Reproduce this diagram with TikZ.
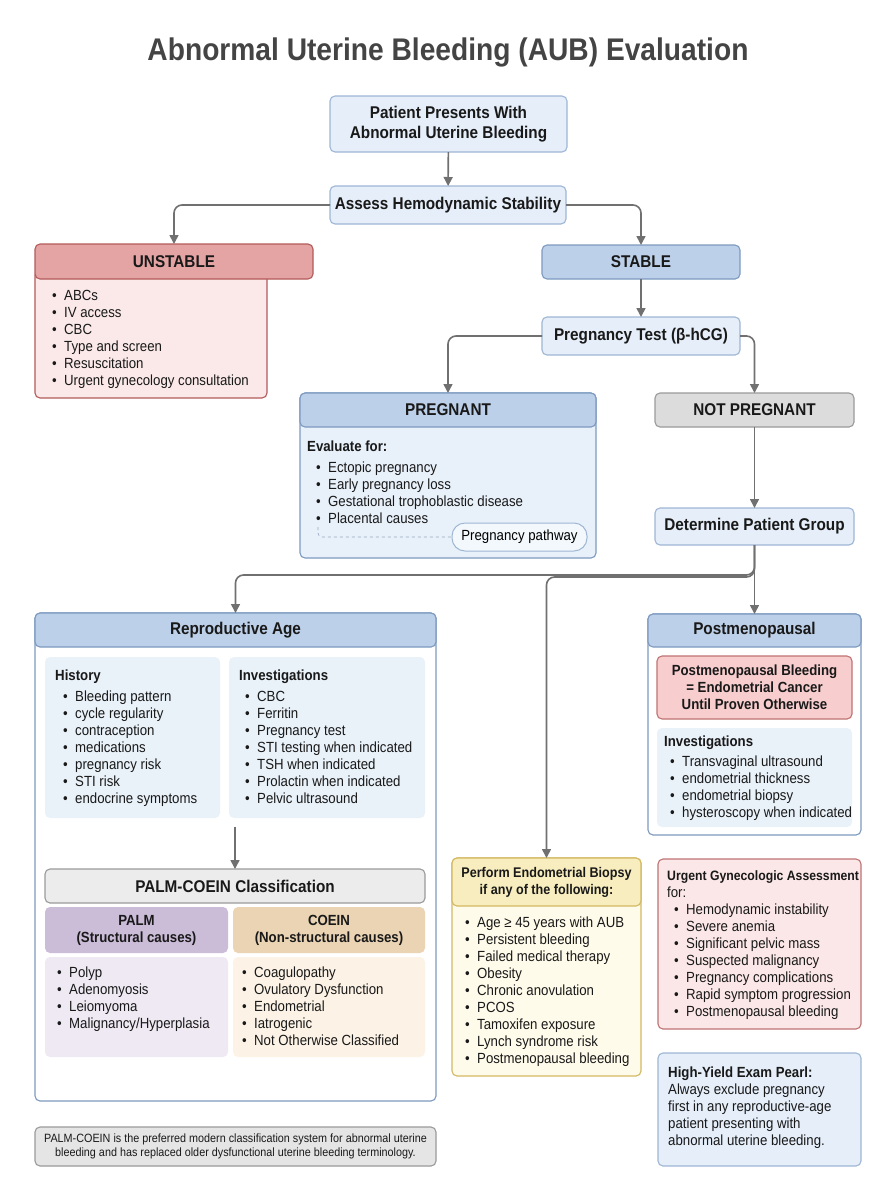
\documentclass[tikz,border=0pt]{standalone}
\usepackage{fontspec}
\setmainfont{Liberation Sans}[FakeStretch=0.9]
\usetikzlibrary{arrows.meta}
\definecolor{procfill}{HTML}{E5EEF9}
\definecolor{procline}{HTML}{9FB6D4}
\definecolor{headfill}{HTML}{BDD0E9}
\definecolor{headline}{HTML}{7D9AC0}
\definecolor{bodyblue}{HTML}{E8F0FA}
\definecolor{softblue}{HTML}{E9F1F9}
\definecolor{redfill}{HTML}{E4A4A4}
\definecolor{redline}{HTML}{B45A5A}
\definecolor{redbody}{HTML}{FBE9E9}
\definecolor{warnfill}{HTML}{F7CDCD}
\definecolor{urgfill}{HTML}{FBE7E7}
\definecolor{grayfill}{HTML}{DCDCDC}
\definecolor{grayline}{HTML}{9A9A9A}
\definecolor{palegray}{HTML}{ECECEC}
\definecolor{purphead}{HTML}{CBBCD8}
\definecolor{purpbody}{HTML}{EFE9F4}
\definecolor{tanhead}{HTML}{EAD4B4}
\definecolor{tanbody}{HTML}{FCF3E6}
\definecolor{yelhead}{HTML}{F8EDBE}
\definecolor{yelline}{HTML}{D3B862}
\definecolor{yelbody}{HTML}{FFFBEA}
\definecolor{arrowgray}{HTML}{707070}
\definecolor{titlegray}{HTML}{444444}
\newcommand{\bl}{\makebox[12pt][l]{\textbullet}}

\begin{document}
\begin{tikzpicture}[x=1pt, y=-1pt,
    box/.style={draw, rounded corners=5pt, line width=1.1pt, inner sep=0pt, outer sep=0pt,
        align=center, text=black!90, font=\fontsize{17}{20}\selectfont\bfseries},
    procbox/.style={box, fill=procfill, draw=procline},
    bluehead/.style={box, fill=headfill, draw=headline},
    bluebody/.style={box, fill=bodyblue, draw=headline},
    whitebody/.style={box, fill=white, draw=headline},
    redhead/.style={box, fill=redfill, draw=redline},
    redbox/.style={box, fill=redbody, draw=redline},
    graybox/.style={box, fill=grayfill, draw=grayline},
    softbox/.style={box, fill=softblue, draw=none},
    smallhead/.style={box, draw=none, font=\fontsize{14.7}{17}\selectfont\bfseries},
    lst/.style={anchor=north west, inner sep=0pt, align=left, text=black!90,
        font=\fontsize{14.7}{17}\selectfont},
    arr/.style={draw=arrowgray, line width=1.6pt, rounded corners=8pt,
        -{Triangle[length=9pt,width=9pt]}}]

\fill[white] (0,0) rectangle (896,1200);

\node[font=\fontsize{31.3}{36}\selectfont\bfseries, text=titlegray] (title) at (448,52)
    {Abnormal Uterine Bleeding (AUB) Evaluation};

\node[procbox, minimum width=237pt, minimum height=56pt] (present) at (448.5,124)
    {Patient Presents With\\Abnormal Uterine Bleeding};
\node[procbox, minimum width=236pt, minimum height=38pt] (assess) at (448,205)
    {Assess Hemodynamic Stability};

\node[redbox, minimum width=232pt, minimum height=128pt] (unstbody) at (151,334) {};
\node[redhead, minimum width=278pt, minimum height=35pt] (unstable) at (174,261.5) {UNSTABLE};
\node[lst] (unstlist) at (52,290) {\bl ABCs\\\bl IV access\\\bl CBC\\\bl Type and screen\\
    \bl Resuscitation\\\bl Urgent gynecology consultation};

\node[bluehead, minimum width=198pt, minimum height=34pt] (stable) at (641,262) {STABLE};
\node[procbox, minimum width=198pt, minimum height=38pt] (pregtest) at (641,336)
    {Pregnancy Test (β-hCG)};

\node[bluebody, minimum width=296pt, minimum height=165pt] (pregbody) at (448,475.5) {};
\node[bluehead, minimum width=296pt, minimum height=34pt] (preg) at (448,410) {PREGNANT};
\node[lst] (evallist) at (307,441) {\textbf{Evaluate for:}\\[4pt]
    \hspace*{9pt}\bl Ectopic pregnancy\\\hspace*{9pt}\bl Early pregnancy loss\\
    \hspace*{9pt}\bl Gestational trophoblastic disease\\\hspace*{9pt}\bl Placental causes};
\node[draw=procline, fill=bodyblue!50, line width=1pt, rounded corners=13pt, minimum width=135pt,
    minimum height=28pt, inner sep=0pt, font=\fontsize{14.7}{17}\selectfont] (pill) at (519.5,537)
    {Pregnancy pathway};
\coordinate (dotstart) at (318,527);
\draw[procline!80!gray, dashed, line width=0.7pt, rounded corners=4pt] (dotstart) |- (pill.west);

\node[graybox, minimum width=199pt, minimum height=34pt] (notpreg) at (754.5,410) {NOT PREGNANT};
\node[procbox, minimum width=199pt, minimum height=37pt] (group) at (754.5,526.5)
    {Determine Patient Group};

\node[whitebody, minimum width=401pt, minimum height=488pt] (reprobody) at (235.5,857) {};
\node[bluehead, minimum width=401pt, minimum height=34pt] (repro) at (235.5,630) {Reproductive Age};
\node[softbox, minimum width=175pt, minimum height=161pt] (hist) at (132.5,737.5) {};
\node[softbox, minimum width=196pt, minimum height=161pt] (invest) at (327,737.5) {};
\node[lst] (histlist) at (55,670) {\textbf{History}\\[4pt]
    \hspace*{8pt}\bl Bleeding pattern\\\hspace*{8pt}\bl cycle regularity\\
    \hspace*{8pt}\bl contraception\\\hspace*{8pt}\bl medications\\
    \hspace*{8pt}\bl pregnancy risk\\\hspace*{8pt}\bl STI risk\\
    \hspace*{8pt}\bl endocrine symptoms};
\node[lst] (investlist) at (239,670) {\textbf{Investigations}\\[4pt]
    \hspace*{6pt}\bl CBC\\\hspace*{6pt}\bl Ferritin\\\hspace*{6pt}\bl Pregnancy test\\
    \hspace*{6pt}\bl STI testing when indicated\\\hspace*{6pt}\bl TSH when indicated\\
    \hspace*{6pt}\bl Prolactin when indicated\\\hspace*{6pt}\bl Pelvic ultrasound};

\coordinate (histend) at (235,827);
\node[box, fill=palegray, draw=grayline, minimum width=380pt, minimum height=34pt] (palmcoein)
    at (235,886) {PALM-COEIN Classification};
\draw[arr] (histend) -- (palmcoein.north);

\node[smallhead, fill=purphead, minimum width=183pt, minimum height=46pt] (palm) at (136.5,930)
    {PALM\\(Structural causes)};
\node[smallhead, fill=tanhead, minimum width=192pt, minimum height=46pt] (coein) at (329,930)
    {COEIN\\(Non-structural causes)};
\node[box, fill=purpbody, draw=none, minimum width=183pt, minimum height=100pt] (palmbody)
    at (136.5,1007) {};
\node[box, fill=tanbody, draw=none, minimum width=192pt, minimum height=100pt] (coeinbody)
    at (329,1007) {};
\node[lst] (palmlist) at (57,967) {\bl Polyp\\\bl Adenomyosis\\\bl Leiomyoma\\
    \bl Malignancy/Hyperplasia};
\node[lst] (coeinlist) at (242,967) {\bl Coagulopathy\\\bl Ovulatory Dysfunction\\
    \bl Endometrial\\\bl Iatrogenic\\\bl Not Otherwise Classified};

\node[whitebody, minimum width=213pt, minimum height=221pt] (postbody) at (754.5,724.5) {};
\node[bluehead, minimum width=213pt, minimum height=33pt] (post) at (754.5,630.5) {Postmenopausal};
\node[box, fill=warnfill, draw=redline!85, minimum width=195pt, minimum height=63pt,
    font=\fontsize{14.7}{17}\selectfont\bfseries] (warn) at (754.5,687.5)
    {Postmenopausal Bleeding\\= Endometrial Cancer\\Until Proven Otherwise};
\node[softbox, minimum width=195pt, minimum height=99pt] (pinv) at (754.5,777.5) {};
\node[lst] (pinvlist) at (664,736) {\textbf{Investigations}\\[3pt]
    \hspace*{6pt}\bl Transvaginal ultrasound\\\hspace*{6pt}\bl endometrial thickness\\
    \hspace*{6pt}\bl endometrial biopsy\\\hspace*{6pt}\bl hysteroscopy when indicated};

\node[box, fill=yelbody, draw=yelline, minimum width=189pt, minimum height=218pt] (biopsybody)
    at (546.5,967) {};
\node[box, fill=yelhead, draw=yelline, minimum width=189pt, minimum height=48pt,
    font=\fontsize{14}{17}\selectfont\bfseries] (biopsy) at (546.5,882)
    {Perform Endometrial Biopsy\\if any of the following:};
\node[lst] (biopsylist) at (465,917) {\bl Age ≥ 45 years with AUB\\\bl Persistent bleeding\\
    \bl Failed medical therapy\\\bl Obesity\\\bl Chronic anovulation\\\bl PCOS\\
    \bl Tamoxifen exposure\\\bl Lynch syndrome risk\\\bl Postmenopausal bleeding};

\node[box, fill=urgfill, draw=redline!85, minimum width=203pt, minimum height=170pt] (urgent)
    at (759.5,944) {};
\node[lst] (urgentlist) at (667,870) {{\fontsize{13.6}{17}\selectfont\bfseries Urgent Gynecologic Assessment}\\for:\\
    \hspace*{7pt}\bl Hemodynamic instability\\\hspace*{7pt}\bl Severe anemia\\
    \hspace*{7pt}\bl Significant pelvic mass\\\hspace*{7pt}\bl Suspected malignancy\\
    \hspace*{7pt}\bl Pregnancy complications\\\hspace*{7pt}\bl Rapid symptom progression\\
    \hspace*{7pt}\bl Postmenopausal bleeding};

\node[procbox, minimum width=203pt, minimum height=113pt] (pearl) at (759.5,1109.5) {};
\node[lst] (pearltext) at (668,1067) {\textbf{High-Yield Exam Pearl:}\\Always exclude pregnancy\\
    first in any reproductive-age\\patient presenting with\\abnormal uterine bleeding.};

\node[box, fill=grayfill!75, draw=grayline, minimum width=401pt, minimum height=39pt,
    font=\fontsize{12}{14}\selectfont] (note) at (235.5,1146.5)
    {PALM-COEIN is the preferred modern classification system for abnormal uterine\\
    bleeding and has replaced older dysfunctional uterine bleeding terminology.};

\draw[arr] (present) -- (assess);
\draw[arr] (assess.west) -| (unstable.north);
\draw[arr] (assess.east) -| (stable.north);
\draw[arr] (stable) -- (pregtest);
\draw[arr] (pregtest.west) -| (preg.north);
\draw[arr] (pregtest.east) -| (notpreg.north);
\draw[arr] (notpreg) -- (group);
\draw[arr] (group.south) -- ++(0,30) -| (repro.north);
\draw[arr] (group.south) -- ++(0,32) -| (biopsy.north);
\draw[arr] (group) -- (post);

\end{tikzpicture}
\end{document}
